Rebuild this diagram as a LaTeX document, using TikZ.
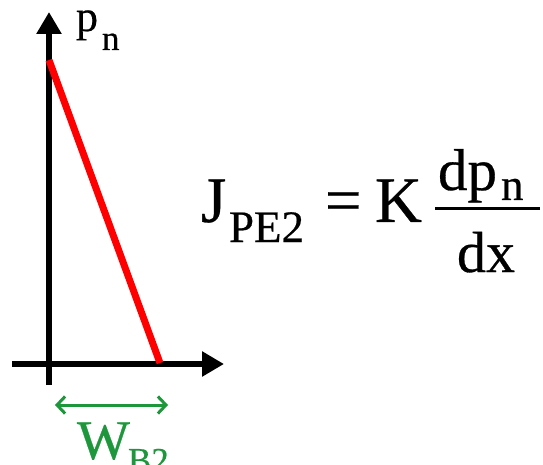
\documentclass[tikz,border=0pt]{standalone}
\usepackage{fontspec}
\setmainfont{Liberation Serif}[FakeBold=0.5]
\usetikzlibrary{arrows.meta}
\definecolor{wgreen}{RGB}{30,150,60}
\begin{document}
\begin{tikzpicture}[x=1pt,y=-1pt,
  txt/.style={inner sep=0pt,outer sep=0pt,anchor=base west},
  axis/.style={line width=5.5pt,-{Triangle[length=22pt,width=24pt]}},
  widtharrow/.style={wgreen,line width=3pt,{Straight Barb[length=8pt,width=17pt]}-{Straight Barb[length=8pt,width=17pt]}}]
\useasboundingbox (0,0) rectangle (543,465);
% axes
\coordinate (vb) at (49,385);
\coordinate (vt) at (49,12);
\coordinate (hl) at (12,364);
\coordinate (hr) at (224,364);
\draw[axis] (vb) -- (vt);
\draw[axis] (hl) -- (hr);
% red profile
\coordinate (rt) at (49,60);
\coordinate (rb) at (160,363);
\draw[red,line width=7pt] (rt) -- (rb);
% axis label
\node[txt,font=\fontsize{44}{44}\selectfont] (pp) at (76,31) {p};
\node[txt,font=\fontsize{35}{35}\selectfont] (pn) at (102,50) {n};
% width arrow
\coordinate (wl) at (55,405);
\coordinate (wr) at (168,405);
\draw[widtharrow] (wl) -- (wr);
\node[txt,wgreen,font=\fontsize{56}{56}\selectfont] (W) at (77,459) {W};
\node[txt,wgreen,font=\fontsize{35}{35}\selectfont] (B2) at (128,472) {B2};
% equation
\node[txt,font=\fontsize{65}{65}\selectfont] (J) at (201,222) {J};
\node[txt,font=\fontsize{45}{45}\selectfont] (PE) at (229,242) {PE2};
\node[txt,font=\fontsize{65}{65}\selectfont] (eq) at (325,222) {=};
\node[txt,font=\fontsize{65}{65}\selectfont] (K) at (375,222) {K};
\node[txt,font=\fontsize{59}{59}\selectfont] (dp) at (438,190) {dp};
\node[txt,font=\fontsize{45}{45}\selectfont] (dpn) at (501,200) {n};
\coordinate (bl) at (435,208);
\coordinate (br) at (540,208);
\draw[line width=3pt] (bl) -- (br);
\node[txt,font=\fontsize{58}{58}\selectfont] (dx) at (457,272) {dx};
\end{tikzpicture}
\end{document}
